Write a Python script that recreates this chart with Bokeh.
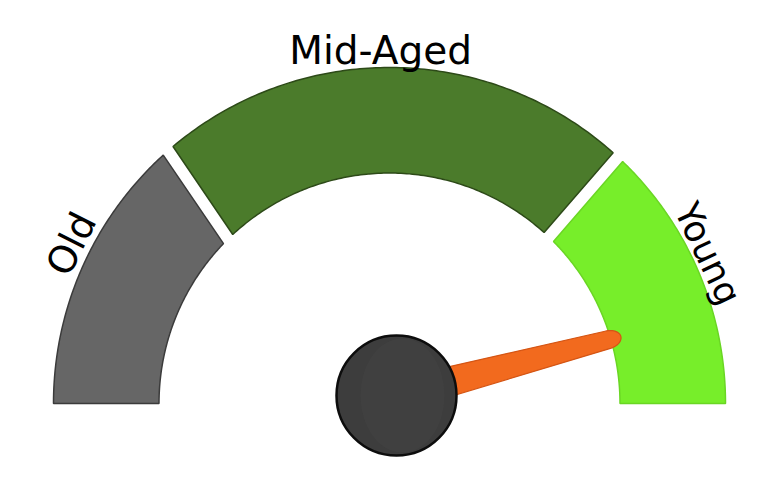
import numpy as np
from bokeh.plotting import figure
from bokeh.models import Range1d, ColumnDataSource
from bokeh.core.properties import value
from bokeh.embed import file_html
from bokeh.resources import INLINE

# ---------------- data ----------------
categories = ["Old", "Mid-Aged", "Young"]
seg_start = [0, 25, 75]
seg_end = [25, 75, 100]
scale_min, scale_max = 0, 100
needle_value = 91.8

# ---------------- style / layout ----------------
fill_colors = ["#666666", "#4b7b2b", "#77ee2a"]
line_colors = ["#3b3b3b", "#2d4a18", "#6ad624"]
CX, CY = 389.0, 88.0          # gauge centre (data units = pixels)
R_OUT, R_IN = 336.0, 230.5
GAP = 13.0                     # width of the straight gap between bands
cut_off_out = {25: 2.1, 75: -1.2}   # slight skew of the cuts (value units)
cut_off_in = {25: 0.3, 75: -0.7}
label_at = [14.8, 49.2, 86.0]       # label positions on the scale
label_r = [356.0, 353.0, 352.0]
label_size = ["38px", "39px", "36px"]
PIVOT_X, PIVOT_Y = 396.0, 96.0
KNOB_R = 60.0
NEEDLE_LEN = 232.0

def theta(v):
    return np.pi * (1.0 - (v - scale_min) / (scale_max - scale_min))

def side_angle(b, r, start_side):
    off = cut_off_out[b] if r == R_OUT else cut_off_in[b]
    c = theta(b + off)
    h = np.arcsin(GAP / 2.0 / r)
    return c - h if start_side else c + h

xs, ys = [], []
for s, e in zip(seg_start, seg_end):
    a0o = theta(s) if s == scale_min else side_angle(s, R_OUT, True)
    a0i = theta(s) if s == scale_min else side_angle(s, R_IN, True)
    a1o = theta(e) if e == scale_max else side_angle(e, R_OUT, False)
    a1i = theta(e) if e == scale_max else side_angle(e, R_IN, False)
    to = np.linspace(a0o, a1o, 120)
    ti = np.linspace(a1i, a0i, 120)
    px = np.concatenate([CX + R_OUT * np.cos(to), CX + R_IN * np.cos(ti)])
    py = np.concatenate([CY + R_OUT * np.sin(to), CY + R_IN * np.sin(ti)])
    xs.append(px.tolist())
    ys.append(py.tolist())

seg_src = ColumnDataSource(dict(xs=xs, ys=ys, fill=fill_colors, line=line_colors, cat=categories))

p = figure(width=752, height=475, x_range=Range1d(0, 752), y_range=Range1d(16, 491),
           output_backend="svg", toolbar_location=None, min_border=0)
p.axis.visible = False
p.grid.visible = False
p.outline_line_color = None
p.background_fill_color = "white"
p.border_fill_color = "white"

p.patches("xs", "ys", source=seg_src, fill_color="fill", line_color="line", line_width=1.5)

# labels
lab_t = [theta(v) for v in label_at]
lab_x = [CX + r * np.cos(t) for r, t in zip(label_r, lab_t)]
lab_y = [CY + r * np.sin(t) for r, t in zip(label_r, lab_t)]
lab_a = [t - np.pi / 2 for t in lab_t]
lab_a[1] = 0.0
lab_src = ColumnDataSource(dict(x=lab_x, y=lab_y, text=categories, angle=lab_a, size=label_size))
p.text(x="x", y="y", text="text", angle="angle", source=lab_src, text_align="center",
       text_baseline="middle", text_font=value("DejaVu Sans"), text_font_size="size",
       text_color="#000000")

# needle
phi = theta(needle_value)
u = np.array([np.cos(phi), np.sin(phi)])
n = np.array([-np.sin(phi), np.cos(phi)])
d_body = 218.0
w0, w1 = 16.5, 9.0
cap = np.linspace(-np.pi / 2, np.pi / 2, 30)
pts = [(0.0, -w0), (d_body, -w1)]
pts += [(d_body + (NEEDLE_LEN - d_body) * np.cos(c), w1 * np.sin(c)) for c in cap]
pts += [(d_body, w1), (0.0, w0)]
nx = [PIVOT_X + a * u[0] + b * n[0] for a, b in pts]
ny = [PIVOT_Y + a * u[1] + b * n[1] for a, b in pts]
p.patch(nx, ny, fill_color="#f26a1e", line_color="#d45514", line_width=1.2)

# knob
p.circle(x=[PIVOT_X], y=[PIVOT_Y], radius=KNOB_R, fill_color="#3d3d3d",
         line_color="#0d0d0d", line_width=2.5)
p.ellipse(x=[PIVOT_X + 6], y=[PIVOT_Y], width=KNOB_R * 1.4, height=KNOB_R * 1.9,
          fill_color="#4a4a4a", fill_alpha=0.3, line_color=None)

open("out.html", "w").write(file_html(p, INLINE))
